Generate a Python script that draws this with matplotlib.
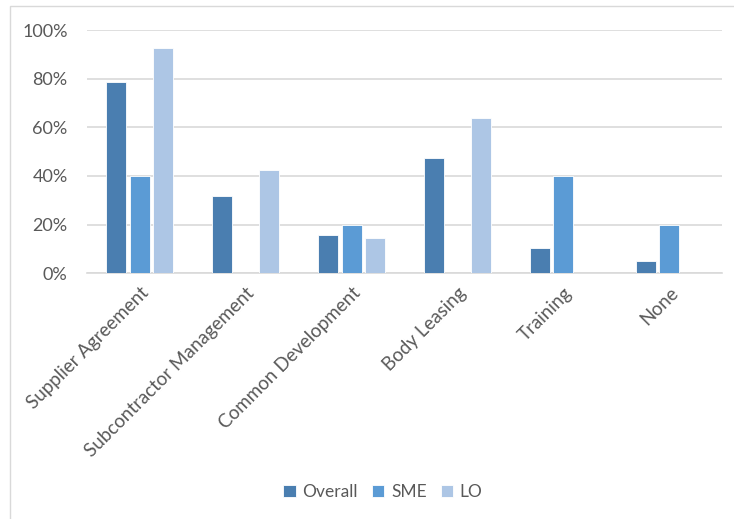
import matplotlib.pyplot as plt
import numpy as np
from matplotlib.patches import Rectangle

categories = ['Supplier Agreement', 'Subcontractor Management', 'Common Development',
              'Body Leasing', 'Training', 'None']
overall = [78.7, 31.8, 15.6, 47.3, 10.4, 5.1]
sme = [40.0, 0.0, 20.0, 0.0, 40.0, 20.0]
lo = [92.7, 42.5, 14.4, 64.0, 0.0, 0.0]

series_names = ['Overall', 'SME', 'LO']
colors = ['#4A7EB0', '#5B9BD5', '#ADC6E5']

plt.rcParams['font.family'] = ['Lato', 'DejaVu Sans']
text_color = '#595959'

fig = plt.figure(figsize=(7.34, 5.19), dpi=100)
ax = fig.add_axes([87 / 734, 1 - 273.3 / 519, 635 / 734, 243.3 / 519])

x = np.arange(len(categories))
width = 0.19
step = 0.222
for i, (vals, name, c) in enumerate(zip([overall, sme, lo], series_names, colors)):
    ax.bar(x + (i - 1) * step, vals, width, color=c, label=name,
           edgecolor='white', linewidth=0.6, zorder=3)

ax.set_xlim(-0.5, len(categories) - 0.5)
ax.set_ylim(0, 100)
ax.set_yticks(np.arange(0, 101, 20))
ax.set_yticklabels([f'{v}%' for v in range(0, 101, 20)])
ax.yaxis.grid(True, color='#D9D9D9', linewidth=1.2, zorder=0)
ax.set_xticks(x)
ax.set_xticklabels(categories, rotation=45, ha='right', rotation_mode='anchor')
ax.tick_params(axis='both', length=0, colors=text_color)
ax.tick_params(axis='y', pad=14, labelsize=13)
ax.tick_params(axis='x', pad=8, labelsize=13.5)
for s in ['top', 'right', 'left']:
    ax.spines[s].set_visible(False)
ax.spines['bottom'].set_color('#D9D9D9')
ax.spines['bottom'].set_linewidth(1.2)

leg = fig.legend(loc='center', bbox_to_anchor=(383 / 734, 1 - 492 / 519), ncol=3, frameon=False,
                 fontsize=12.5, handlelength=0.7, handleheight=0.7, handletextpad=0.4,
                 columnspacing=0.8)
for t in leg.get_texts():
    t.set_color(text_color)

# chart area border (only top and left edges visible in the original)
fig.patches.append(Rectangle((10 / 734, -0.1), 1.2, 1.1 - 6 / 519,
                             transform=fig.transFigure, fill=False,
                             edgecolor='#D9D9D9', linewidth=1.0))

fig.savefig('out.png', dpi=100)
